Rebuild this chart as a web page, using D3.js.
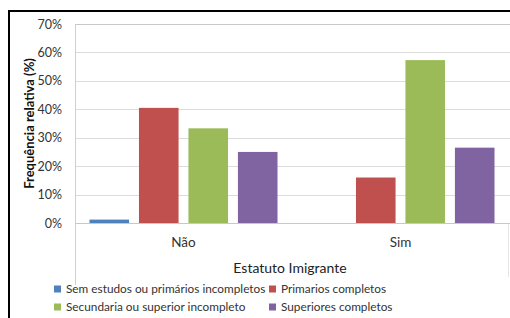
<!DOCTYPE html>
<html>
<head>
<meta charset="utf-8">
<script src="https://cdn.jsdelivr.net/npm/d3@7"></script>
<style>
  html, body { margin: 0; padding: 0; background: #fff; }
  svg { display: block; }
  text { font-family: Lato, "Open Sans", sans-serif; }
</style>
</head>
<body>
<svg id="chart" width="510" height="318"></svg>
<script>
const categories = ["Não", "Sim"];
const seriesNames = [
  "Sem estudos ou primários incompletos",
  "Primarios completos",
  "Secundaria ou superior incompleto",
  "Superiores completos"
];
const seriesColors = ["#4F81BD", "#C0504D", "#9BBB59", "#8064A2"];
// values in %, one array per series, indexed by category
const semEstudos = [1.2, 0];
const primarios = [40.5, 16.0];
const secundaria = [33.3, 57.3];
const superiores = [25.0, 26.5];
const seriesValues = [semEstudos, primarios, secundaria, superiores];
const yTicks = [0, 10, 20, 30, 40, 50, 60, 70];

const svg = d3.select("#chart");
const W = 510, H = 318;
const plot = { left: 75, right: 509, top: 24, bottom: 223 };

svg.append("rect").attr("x", 0).attr("y", 0).attr("width", W).attr("height", H).attr("fill", "#fff");
// outer chart border (clipped at right/bottom in the reference)
svg.append("rect").attr("x", 9).attr("y", 11).attr("width", 520).attr("height", 330)
  .attr("fill", "none").attr("stroke", "#000").attr("stroke-width", 2);

const y = d3.scaleLinear().domain([0, 70]).range([plot.bottom, plot.top]);
const x0 = d3.scaleBand().domain(categories).range([plot.left, plot.right])
  .paddingInner(0.1336).paddingOuter(0.0668);
const x1 = d3.scaleBand().domain(d3.range(seriesNames.length)).range([0, x0.bandwidth()])
  .paddingInner(0.2).paddingOuter(0);

// gridlines
svg.append("g").selectAll("line").data(yTicks.filter(t => t > 0)).join("line")
  .attr("x1", plot.left).attr("x2", W)
  .attr("y1", d => Math.round(y(d)) + 0.5).attr("y2", d => Math.round(y(d)) + 0.5)
  .attr("stroke", d => d === 70 ? "#c8c8c8" : "#dcdcdc").attr("stroke-width", 1.2);

// y axis
const yAxis = d3.axisLeft(y).tickValues(yTicks).tickFormat(d => d + "%").tickSize(0).tickPadding(13);
const yg = svg.append("g").attr("transform", `translate(${plot.left},0)`).call(yAxis);
yg.select(".domain").remove();
yg.selectAll("text").attr("font-size", 12.5).attr("fill", "#333").attr("font-family", "Lato, sans-serif");

// vertical axis line and category boundary lines
svg.append("line").attr("x1", plot.left + 0.5).attr("x2", plot.left + 0.5)
  .attr("y1", plot.top).attr("y2", 285).attr("stroke", "#d0d0d0").attr("stroke-width", 1);
svg.append("line").attr("x1", 508.5).attr("x2", 508.5)
  .attr("y1", plot.bottom).attr("y2", 277).attr("stroke", "#e4e4e4").attr("stroke-width", 1);

// bars
const groups = svg.append("g").selectAll("g").data(categories).join("g")
  .attr("transform", d => `translate(${x0(d)},0)`);
groups.selectAll("rect").data((c, ci) => seriesValues.map((vals, si) => ({ si, v: vals[ci] })))
  .join("rect")
  .attr("x", d => x1(d.si))
  .attr("width", x1.bandwidth())
  .attr("y", d => y(d.v))
  .attr("height", d => y(0) - y(d.v))
  .attr("fill", d => seriesColors[d.si]);

// x axis baseline
svg.append("line").attr("x1", plot.left).attr("x2", W)
  .attr("y1", plot.bottom + 0.5).attr("y2", plot.bottom + 0.5)
  .attr("stroke", "#c8c8c8").attr("stroke-width", 1.2);

// category labels
const xAxis = d3.axisBottom(x0).tickSize(0).tickPadding(14);
const xg = svg.append("g").attr("transform", `translate(0,${plot.bottom})`).call(xAxis);
xg.select(".domain").remove();
xg.selectAll("text").attr("font-size", 13.5).attr("fill", "#333").attr("font-family", "Lato, sans-serif");

// axis titles
svg.append("text").attr("x", 290).attr("y", 273).attr("text-anchor", "middle")
  .attr("font-size", 14).attr("fill", "#222").text("Estatuto Imigrante");
svg.append("text").attr("transform", `translate(34,${(plot.top + plot.bottom) / 2}) rotate(-90)`)
  .attr("text-anchor", "middle").attr("font-size", 13).attr("font-weight", "bold")
  .attr("fill", "#111").text("Frequência relativa (%)");

// legend
const legendPos = [[54, 289], [269, 289], [54, 307], [269, 307]];
const lg = svg.append("g").selectAll("g").data(seriesNames).join("g")
  .attr("transform", (d, i) => `translate(${legendPos[i][0]},${legendPos[i][1]})`);
lg.append("rect").attr("x", 0).attr("y", -3.5).attr("width", 7).attr("height", 7)
  .attr("fill", (d, i) => seriesColors[i]);
lg.append("text").attr("x", 12).attr("y", 4.2).attr("font-size", 11.8).attr("fill", "#333").text(d => d);
</script>
</body>
</html>
